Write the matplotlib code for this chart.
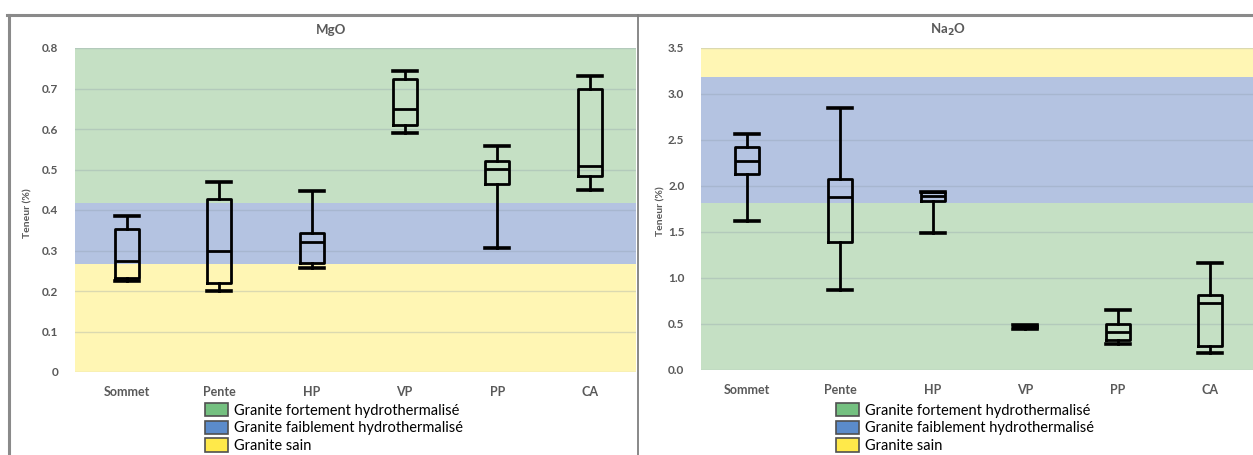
import matplotlib
matplotlib.use("Agg")
import matplotlib.pyplot as plt
from matplotlib.patches import Patch
from matplotlib.lines import Line2D

categories = ["Sommet", "Pente", "HP", "VP", "PP", "CA"]

mgo_whislo = [0.224, 0.199, 0.257, 0.589, 0.306, 0.449]
mgo_q1 = [0.233, 0.219, 0.268, 0.610, 0.463, 0.485]
mgo_med = [0.273, 0.298, 0.321, 0.649, 0.501, 0.508]
mgo_q3 = [0.353, 0.427, 0.343, 0.723, 0.520, 0.699]
mgo_whishi = [0.384, 0.468, 0.446, 0.743, 0.557, 0.730]

na2o_whislo = [1.62, 0.866, 1.493, 0.45, 0.282, 0.188]
na2o_q1 = [2.134, 1.388, 1.841, 0.455, 0.329, 0.264]
na2o_med = [2.275, 1.884, 1.888, 0.47, 0.415, 0.726]
na2o_q3 = [2.428, 2.076, 1.938, 0.49, 0.505, 0.816]
na2o_whishi = [2.565, 2.848, 1.94, 0.49, 0.655, 1.162]

# zone limits (low, high) for each granite class
mgo_zones = {"fort": (0.417, 0.8), "faible": (0.267, 0.417), "sain": (0.0, 0.267)}
na2o_zones = {"fort": (0.0, 1.82), "faible": (1.82, 3.18), "sain": (3.18, 3.5)}

mgo_ticks = [0, 0.1, 0.2, 0.3, 0.4, 0.5, 0.6, 0.7, 0.8]
mgo_ticklabels = ["0", "0.1", "0.2", "0.3", "0.4", "0.5", "0.6", "0.7", "0.8"]
na2o_ticks = [0.0, 0.5, 1.0, 1.5, 2.0, 2.5, 3.0, 3.5]
na2o_ticklabels = ["0.0", "0.5", "1.0", "1.5", "2.0", "2.5", "3.0", "3.5"]

zone_labels = {
    "fort": "Granite fortement hydrothermalisé",
    "faible": "Granite faiblement hydrothermalisé",
    "sain": "Granite sain",
}
band_colors = {"fort": "#c5e0c4", "faible": "#b4c3e1", "sain": "#fff6b4"}
legend_colors = {"fort": "#74c080", "faible": "#5b8bcb", "sain": "#ffe94a"}

TXT = "#595959"
W, H = 1253, 455


def px(x0, y0, x1, y1):
    return [x0 / W, 1 - y1 / H, (x1 - x0) / W, (y1 - y0) / H]


def draw_panel(ax, zones, lo, q1, med, q3, hi, ticks, ticklabels, xlim):
    for key, (a, b) in zones.items():
        ax.axhspan(a, b, color=band_colors[key], lw=0, zorder=0)
    for t in ticks:
        ax.axhline(t, color="#8a98a8", alpha=0.3, lw=1.0, zorder=1)

    stats = []
    for i in range(len(categories)):
        stats.append({"whislo": lo[i], "q1": q1[i], "med": med[i],
                      "q3": q3[i], "whishi": hi[i], "fliers": []})
    lw = 2.0
    ax.bxp(stats, positions=range(len(categories)), widths=0.26,
           capwidths=0.26, showfliers=False, patch_artist=False,
           boxprops=dict(color="black", lw=lw),
           medianprops=dict(color="black", lw=lw),
           whiskerprops=dict(color="black", lw=lw),
           capprops=dict(color="black", lw=lw + 0.6))

    ax.set_xlim(*xlim)
    ax.set_ylim(ticks[0], ticks[-1])
    ax.set_yticks(ticks)
    ax.set_yticklabels(ticklabels)
    ax.set_xticks(range(len(categories)))
    ax.set_xticklabels(categories)
    for s in ax.spines.values():
        s.set_visible(False)
    ax.tick_params(length=0, labelcolor=TXT)
    ax.tick_params(axis="y", pad=12, labelsize=8.5)
    ax.tick_params(axis="x", pad=10, labelsize=9)
    for lab in ax.get_xticklabels() + ax.get_yticklabels():
        lab.set_fontweight("bold")


plt.rcParams["font.family"] = ["Lato", "DejaVu Sans"]

fig = plt.figure(figsize=(W / 100, H / 100), dpi=100)

ax1 = fig.add_axes(px(75, 48, 636, 372))
draw_panel(ax1, mgo_zones, mgo_whislo, mgo_q1, mgo_med, mgo_q3, mgo_whishi,
           mgo_ticks, mgo_ticklabels, (-0.56, 5.5))

ax2 = fig.add_axes(px(701, 48, 1253, 370))
draw_panel(ax2, na2o_zones, na2o_whislo, na2o_q1, na2o_med, na2o_q3, na2o_whishi,
           na2o_ticks, na2o_ticklabels, (-0.5, 5.46))

fig.text(331 / W, 1 - 30 / H, "MgO", ha="center", va="center",
         fontsize=9.5, fontweight="bold", color=TXT)
fig.text(948 / W, 1 - 30 / H, "Na$_\\mathbf{2}$O", ha="center", va="center",
         fontsize=9.5, fontweight="bold", color=TXT)

fig.text(28 / W, 1 - 213 / H, "Teneur (%)", rotation=90, ha="center", va="center",
         fontsize=7.5, fontweight="bold", color=TXT)
fig.text(661 / W, 1 - 211 / H, "Teneur (%)", rotation=90, ha="center", va="center",
         fontsize=7.5, fontweight="bold", color=TXT)

handles = [Patch(facecolor=legend_colors[k], edgecolor="#505050", lw=1.2,
                 label=zone_labels[k]) for k in ["fort", "faible", "sain"]]
for x0 in (205, 836):
    fig.legend(handles=handles, loc="upper left",
               bbox_to_anchor=(x0 / W, 1 - 403 / H), frameon=False,
               fontsize=10.5, handlelength=1.6, handleheight=1.0,
               handletextpad=0.4, labelspacing=0.22, borderpad=0,
               borderaxespad=0)

# panel borders
border = "#8a8a8a"
fig.add_artist(Line2D([7 / W, 1], [1 - 15 / H, 1 - 15 / H], color=border, lw=2.2))
fig.add_artist(Line2D([8.5 / W, 8.5 / W], [0, 1 - 15 / H], color=border, lw=2.2))
fig.add_artist(Line2D([637.5 / W, 637.5 / W], [0, 1 - 15 / H], color="#7f7f7f", lw=1.3))

fig.savefig("out.png", dpi=100)
